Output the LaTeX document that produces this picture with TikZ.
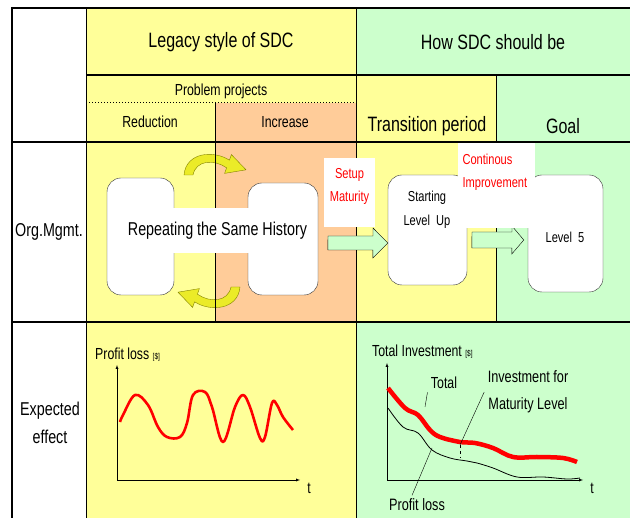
\documentclass[tikz,border=0pt]{standalone}
\usepackage{fontspec}
\setmainfont[FakeStretch=0.77]{Liberation Sans}
\definecolor{legacy}{RGB}{255,255,153}
\definecolor{should}{RGB}{204,255,204}
\definecolor{problem}{RGB}{255,204,153}
\definecolor{turnfill}{RGB}{235,235,40}
\definecolor{turnline}{RGB}{130,130,0}
\newcommand{\fsz}[2]{\fontsize{#1}{#2}\selectfont}
\begin{document}
\begin{tikzpicture}[x=1pt,y=-1pt]
	\tikzstyle{head} = [font=\fsz{20.8}{23}]
	\tikzstyle{sub} = [font=\fsz{16}{18}]
	\tikzstyle{side} = [font=\fsz{18.6}{28}, align=center]
	\tikzstyle{box} = [draw=black!80, rounded corners=14, fill=white, inner sep=0]
	\tikzstyle{note} = [text=red, font=\fsz{14.4}{23}]
	\tikzstyle{blk} = [draw, fill=should]
	\tikzstyle{turn} = [draw=turnline, fill=turnfill]
	\tikzstyle{thk} = [line width=2.2]

	\useasboundingbox (0,0) rectangle (630,518);

	% cells
	\fill[legacy] (86,8) rectangle (356,142);
	\fill[should] (356,8) rectangle (630,75);
	\fill[legacy] (356,75) rectangle (496,142);
	\fill[should] (496,75) rectangle (630,142);
	\fill[problem] (215,103) rectangle (356,142);
	\fill[legacy] (86,142) rectangle (215,322);
	\fill[problem] (215,142) rectangle (356,322);
	\fill[legacy] (356,142) rectangle (496,322);
	\fill[should] (496,142) rectangle (630,322);
	\fill[legacy] (86,322) rectangle (356,518);
	\fill[should] (356,322) rectangle (630,518);

	% turning arrows
	\draw [turn] (184,175) .. controls (186,152) and (214,150) .. (229.4,160.2)
		-- (231.4,154.6) -- (246,169.8) -- (224.6,173.4) -- (226.6,167.8)
		.. controls (214,159) and (196,160) .. (193,175) -- cycle;
	\begin{scope}[rotate around={180:(212,231)}]
		\draw [turn] (184,175) .. controls (186,152) and (214,150) .. (229.4,160.2)
			-- (231.4,154.6) -- (246,169.8) -- (224.6,173.4) -- (226.6,167.8)
			.. controls (214,159) and (196,160) .. (193,175) -- cycle;
	\end{scope}

	\draw [line width=1] (86,8) -- (86,518);
	\draw [line width=1] (356,8) -- (356,518);
	\draw [line width=1] (496,75) -- (496,322);
	\draw [line width=1] (215,103) -- (215,322);
	\draw [line width=1, dotted] (86,103) -- (356,103);
	\draw [thk] (12,8) -- (630,8);
	\draw [thk] (86,75) -- (630,75);
	\draw [thk] (12,142) -- (630,142);
	\draw [thk] (12,322) -- (630,322);
	\draw [thk] (12,7) -- (12,518);

	\node [head] (legacy) at (221,42) {Legacy style of SDC};
	\node [head] (howto) at (493,42) {How SDC should be};
	\node [sub] (problem) at (221,91) {Problem projects};
	\node [sub] (reduce) at (150,122) {Reduction};
	\node [sub] (increase) at (285,122) {Increase};
	\node [head] (transit) at (427,126) {Transition period};
	\node [head] (goal) at (563,126) {Goal};
	\node [side] (org) at (49,232) {Org.Mgmt.};
	\node [side] (expect) at (50,423) {Expected\\effect};

	% org. mgmt. row
	\node [box, minimum width=67, minimum height=117] (rep1) at (140.5,236.5) {};
	\node [box, minimum width=70, minimum height=112] (rep2) at (283,239) {};
	\node [fill=white, font=\fsz{18.6}{20}, inner xsep=2, minimum height=45] (history) at (217.5,230.5) {Repeating the Same History};

	\node [box, minimum width=79, minimum height=110] (start) at (427.5,230) {};
	\node [box, minimum width=75, minimum height=117] (level5) at (565.5,233.5) {};
	\node [font=\fsz{14.4}{24}, align=center] (startlbl) at (427,210) {Starting\\Level~~Up};
	\node [font=\fsz{14.4}{24}] (level5lbl) at (565,237) {Level~~5};

	\coordinate (a1) at (328,243);
	\coordinate (a2) at (472,240);
	\draw [blk] (a1) ++(0,-7) -- ++(45,0) -- ++(0,-8) -- (start.west |- a1)
		-- ++(-15,15) -- ++(0,-8) -- ++(-45,0) -- cycle;
	\draw [blk] (a2) ++(0,-8) -- ++(40,0) -- ++(0,-6) -- ([xshift=-4]level5.west |- a2)
		-- ++(-12,14) -- ++(0,-6) -- ++(-40,0) -- cycle;

	\fill [white] (324,158) rectangle (375,227);
	\fill [white] (458,143) rectangle (535,228);
	\node [note, align=center] (setup) at (349.5,186) {Setup\\Maturity};
	\node [note, align=left, anchor=west] (improve) at (459,172) {Continous\\Improvement};

	% expected effect row
	\coordinate (o1) at (117,480);
	\coordinate (y1) at (117,365);
	\coordinate (x1) at (300,480);
	\draw [-latex] (o1) -- (y1);
	\draw [-latex] (o1) -- (x1);
	\node [sub, anchor=base west, inner sep=0] (lossaxis) at (95,360) {Profit loss {\fsz{8.5}{9}[\$]}};
	\node [font=\fsz{16}{18}] (t1) at (309,488) {t};
	\draw [red, line width=2.6, line join=round] plot [smooth, tension=0.6] coordinates {
		(120,422) (123,415) (135,395) (148,405) (158,427) (167,437) (180,437) (187,423)
		(193,395) (205,392) (212,407) (223,442) (235,407) (243,395) (250,407) (260,438)
		(265,437) (272,403) (277,405) (283,417) (293,430)};

	\coordinate (o2) at (387,480);
	\coordinate (y2) at (387,363);
	\coordinate (x2) at (583,480);
	\draw [-latex] (o2) -- (y2);
	\draw [-latex] (o2) -- (x2);
	\node [sub, anchor=base west, inner sep=0] (invaxis) at (372,357) {Total Investment {\fsz{8.5}{9}[\$]}};
	\node [font=\fsz{16}{18}] (t2) at (592,488) {t};
	\draw [red, line width=4.5] plot [smooth, tension=0.6] coordinates {
		(388,388) (405,408) (418,415) (430,430) (440,437) (460,442) (475,443) (493,448)
		(513,457) (537,457) (563,458) (577,462)};
	\draw [line width=0.8] plot [smooth, tension=0.6] coordinates {
		(388,408) (403,427) (418,433) (432,450) (450,458) (467,461) (477,463) (493,468)
		(517,477) (543,477) (567,479) (580,478)};

	\node [font=\fsz{16}{18}] (total) at (444,383) {Total};
	\node [font=\fsz{16.5}{27}, align=center] (invest) at (528,392) {Investment for\\Maturity Level};
	\node [font=\fsz{16.5}{18}] (ploss) at (417,505) {Profit loss};
	\coordinate (totpt) at (425,407);
	\coordinate (invpt) at (460,445);
	\coordinate (invend) at (460,458);
	\coordinate (losspt) at (432,448);
	\draw (total.south west) -- (totpt);
	\draw (invest.west) -- (invpt);
	\draw [dashed] (invpt) -- (invend);
	\draw ([xshift=-5]ploss.north) -- (losspt);
\end{tikzpicture}
\end{document}
